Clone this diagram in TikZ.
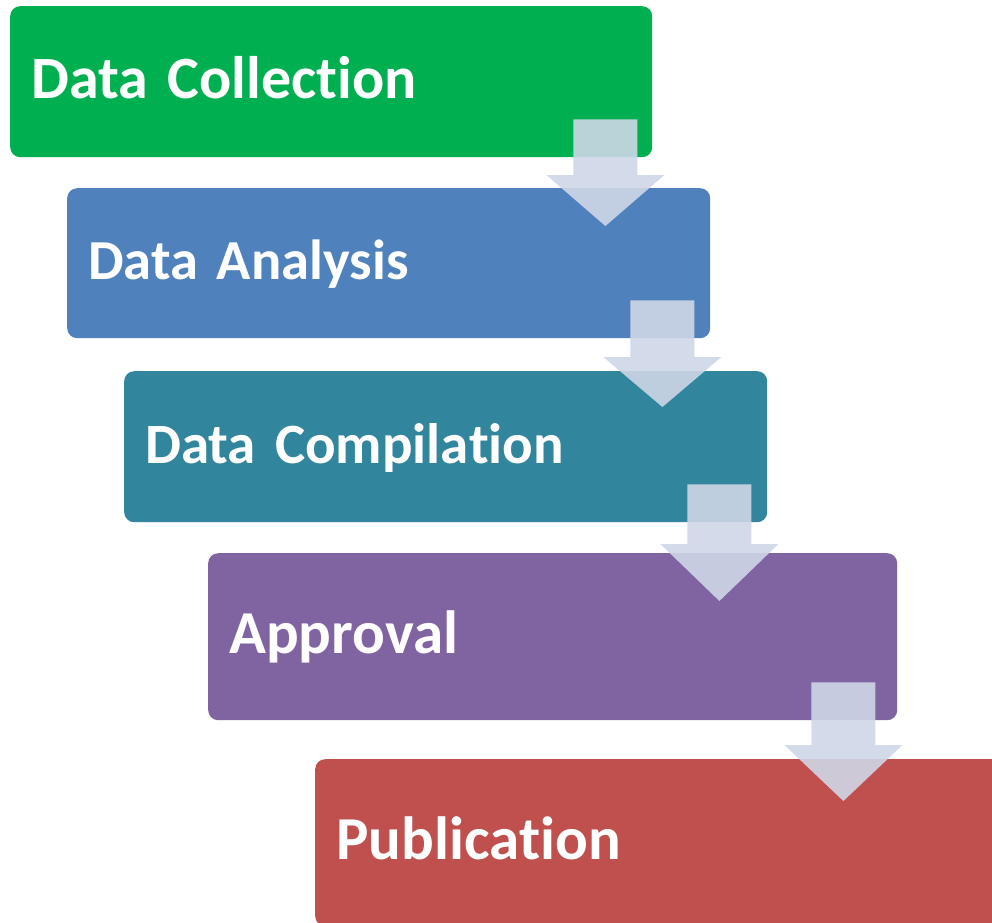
\documentclass[tikz,border=0pt]{standalone}
\usepackage{fontspec}
\setmainfont{Carlito}[Ligatures=NoCommon]
\usepackage{tikz}
\usetikzlibrary{calc}
\definecolor{collect-green}{HTML}{00B050}
\definecolor{analysis-blue}{HTML}{4F81BD}
\definecolor{compile-teal}{HTML}{31859C}
\definecolor{approve-purple}{HTML}{8064A2}
\definecolor{publish-red}{HTML}{C0504D}
\definecolor{arrow-grey}{HTML}{CFD7E7}
\tikzset{
    flow-box/.style = {rectangle, rounded corners=10pt, anchor=north west, inner xsep=21pt, inner ysep=0pt, align=left, text=white, font=\fontsize{#1}{72}\selectfont\bfseries, text height=40pt, text depth=7pt},
    flow-box/.default = 60,
    flow-arrow/.style = {fill=arrow-grey, fill opacity=0.9, draw=none},
}

\begin{document}
\begin{tikzpicture}[x=1pt, y=-1pt]
\fill[white] (0,0) rectangle (992,922);
\useasboundingbox (0,0) rectangle (992,922);
\clip (0,0) rectangle (992,922);
\node[flow-box=60, fill=collect-green, text width=600pt, minimum height=151pt] (collection) at (10,6) {Data Collec\kern0pt tion};
\node[flow-box=56.5, fill=analysis-blue, text width=601pt, minimum height=150pt] (analysis) at (67,188) {Data Analysis};
\node[flow-box=57, fill=compile-teal, text width=601pt, minimum height=151pt] (compilation) at (124,371) {Data Compila\kern0pt tion};
\node[flow-box=61, fill=approve-purple, text width=647pt, minimum height=167pt] (approval) at (208,553) {Approval};
\node[flow-box=61, fill=publish-red, text width=660pt, minimum height=167pt] (publication) at (315,759) {Publica\kern0pt tion};
% arrows between the steps
\foreach \from/\to/\d/\t/\h in {collection/analysis/47/38/51, analysis/compilation/48/36/50, compilation/approval/48/48/57, approval/publication/54/42/56}
  \path let \p1 = (\from.south east), \p2 = (\to.north) in
    [flow-arrow] (\x1-\d pt-32pt, \y1+38pt) -- (\x1-\d pt+32pt, \y1+38pt)
    -- (\x1-\d pt+32pt, \y2-\t pt+\h pt) -- (\x1-\d pt+59pt, \y2-\t pt+\h pt)
    -- (\x1-\d pt, \y2-\t pt)
    -- (\x1-\d pt-59pt, \y2-\t pt+\h pt) -- (\x1-\d pt-32pt, \y2-\t pt+\h pt) -- cycle;
\end{tikzpicture}
\end{document}
